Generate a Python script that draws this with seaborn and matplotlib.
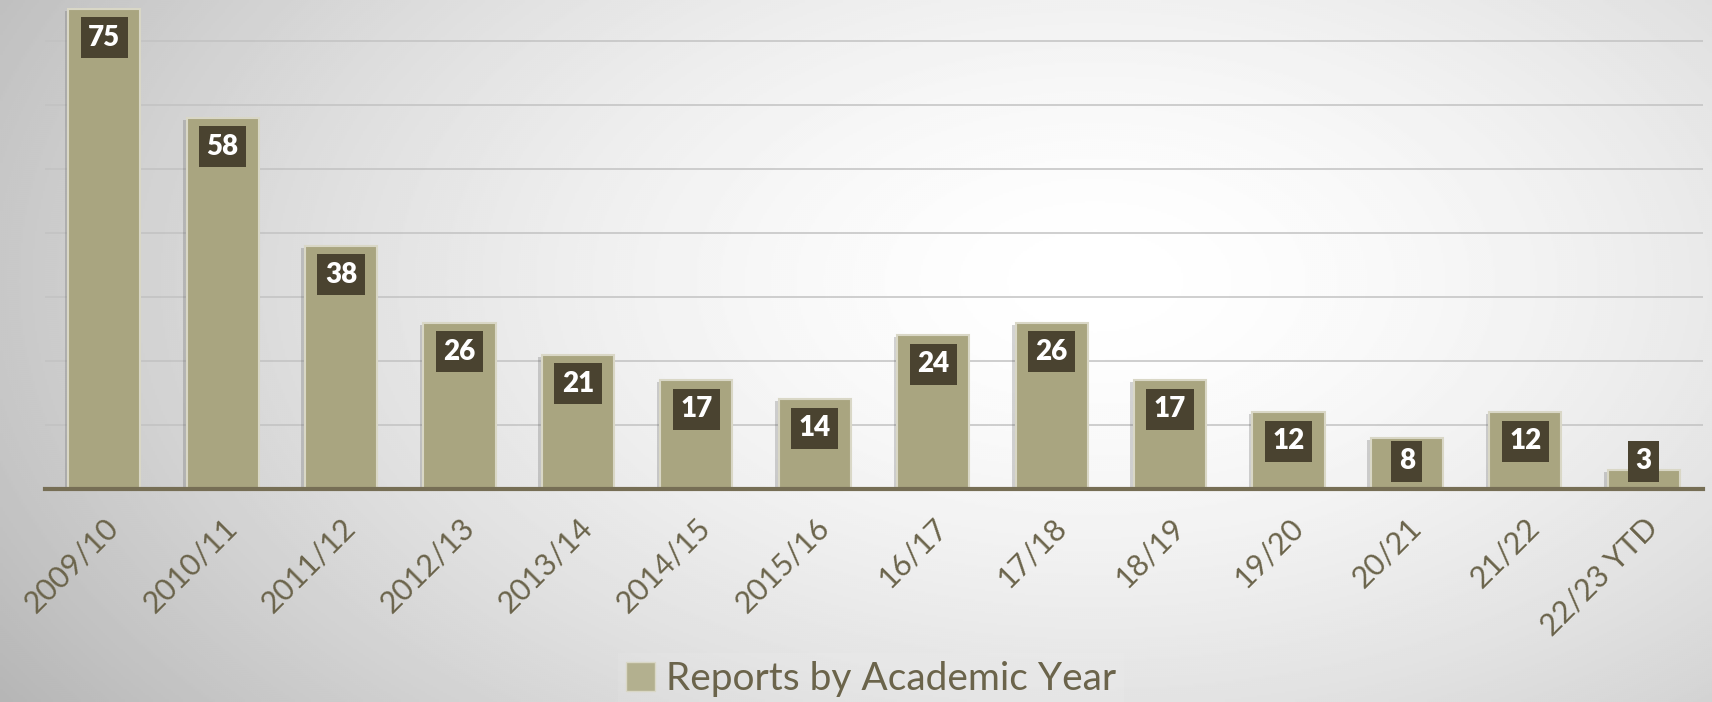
import numpy as np
import pandas as pd
import matplotlib
matplotlib.use("Agg")
import matplotlib.pyplot as plt
import matplotlib.patheffects as pe
from matplotlib.patches import Patch
import seaborn as sns

years = ["2009/10", "2010/11", "2011/12", "2012/13", "2013/14", "2014/15", "2015/16",
         "16/17", "17/18", "18/19", "19/20", "20/21", "21/22", "22/23 YTD"]
reports = [75, 58, 38, 26, 21, 17, 14, 24, 26, 17, 12, 8, 12, 3]
series_name = "Reports by Academic Year"

BAR = "#a9a580"
BAR_EDGE = "#d9d7c6"
LABEL_BOX = "#4a4330"
TEXT = "#6b644b"
AXIS = "#766e55"

sns.set_style("white")
plt.rcParams["font.family"] = ["Lato", "DejaVu Sans"]

fig = plt.figure(figsize=(17.12, 7.02), dpi=100)

# background radial gradient
bg = fig.add_axes([0, 0, 1, 1], zorder=-10)
h, w = 351, 856
yy, xx = np.mgrid[0:1:h * 1j, 0:1:w * 1j]
r = np.sqrt(((xx - 0.64) / 0.7) ** 2 + ((yy - 0.4) / 1.0) ** 2)
val = 1.0 - 0.25 * np.clip(r, 0, 1.3) ** 1.6
bg.imshow(val, cmap="gray", vmin=0, vmax=1, aspect="auto", extent=[0, 1, 1, 0])
bg.axis("off")

ax = fig.add_axes([45 / 1712, 213 / 702, (1703 - 45) / 1712, 1 - 213 / 702])
ax.set_facecolor("none")

df = pd.DataFrame({"year": years, "reports": reports})
sns.barplot(data=df, x="year", y="reports", color=BAR, saturation=1, width=0.61, ax=ax, zorder=3)

for p in ax.patches:
    p.set_edgecolor(BAR_EDGE)
    p.set_linewidth(1.5)
    p.set_path_effects([pe.SimplePatchShadow(offset=(-2.5, -1.5), shadow_rgbFace="#555555", alpha=0.25),
                        pe.Normal()])

ax.set_ylim(0, 76.4)
ax.set_xlim(-0.5, len(years) - 0.5)
ax.set_yticks(np.arange(10, 80, 10))
ax.yaxis.grid(True, color="#c2c2c2", linewidth=1.1, zorder=0)
ax.xaxis.grid(False)
ax.set_axisbelow(True)
ax.tick_params(axis="y", left=False, labelleft=False)
ax.tick_params(axis="x", bottom=False, pad=14, colors=TEXT)
ax.set_xlabel("")
ax.set_ylabel("")
for s in ["top", "right", "left"]:
    ax.spines[s].set_visible(False)
ax.spines["bottom"].set_color(AXIS)
ax.spines["bottom"].set_linewidth(3)
ax.spines["bottom"].set_zorder(5)

ax.set_xticks(range(len(years)))
ax.set_xticklabels(years, rotation=45, ha="right", va="top", rotation_mode="anchor",
                   fontsize=22, color=TEXT)

px_per_unit = 489 / 76.4
for p, v in zip(ax.patches, reports):
    cx = p.get_x() + p.get_width() / 2
    yc = max(v - 29 / px_per_unit, 28 / px_per_unit)
    ax.text(cx, yc, f"{v}", ha="center", va="center", color="white", fontsize=20,
            fontweight="heavy", zorder=6,
            bbox=dict(boxstyle="square,pad=0.27", facecolor=LABEL_BOX, edgecolor="none"))

handle = Patch(facecolor="#b3b08f", edgecolor="#d9d7c6", linewidth=1)
leg = fig.legend([handle], [series_name], loc="center", bbox_to_anchor=(871 / 1712, 1 - 679 / 702),
                 frameon=True, fontsize=28, handlelength=0.75, handleheight=0.75, handletextpad=0.3,
                 borderpad=0.2, fancybox=False, framealpha=0.08, facecolor="white", edgecolor="none")
for t in leg.get_texts():
    t.set_color(TEXT)

fig.savefig("out.png", dpi=100)
